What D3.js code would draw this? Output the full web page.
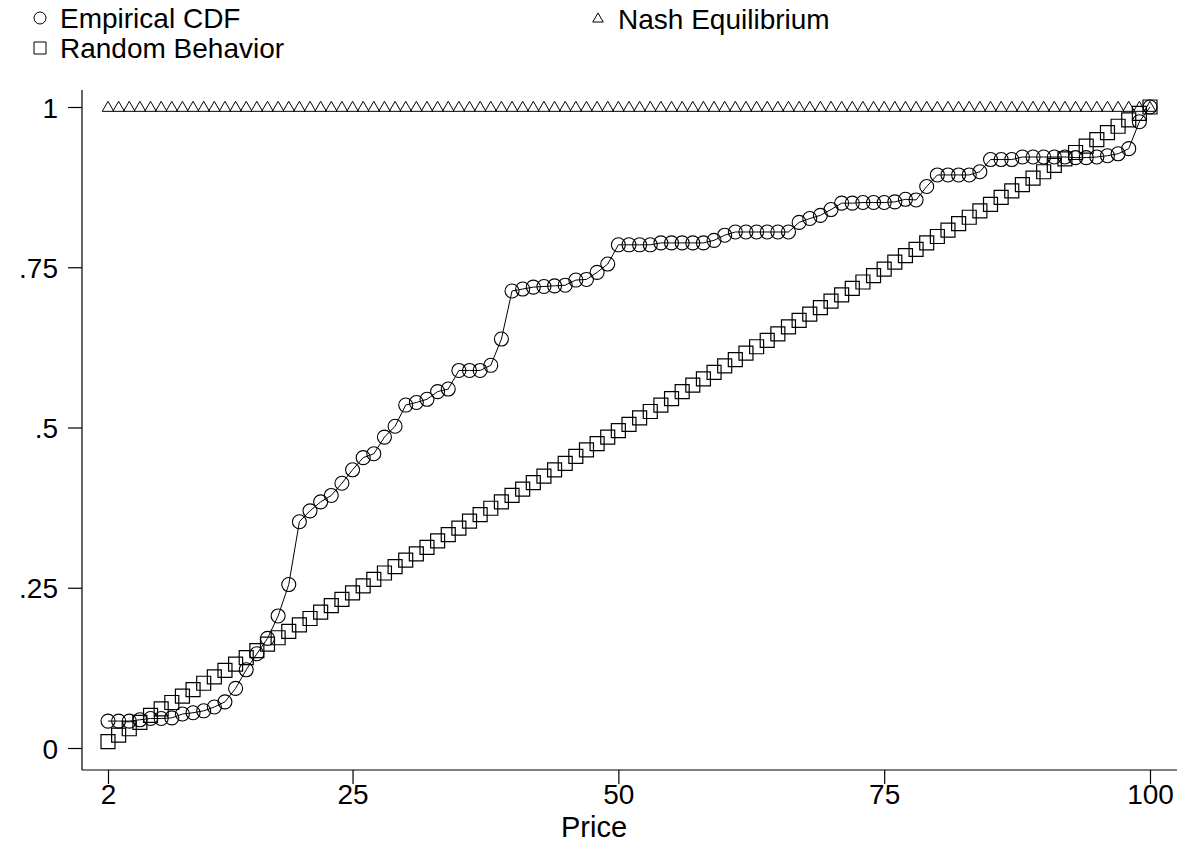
<!DOCTYPE html>
<html>
<head>
<meta charset="utf-8">
<script src="https://cdn.jsdelivr.net/npm/d3@7/dist/d3.min.js"></script>
<style>
  body { margin: 0; background: #fff; }
  svg { display: block; font-family: "Liberation Sans", Arial, sans-serif; }
  .axis text { font-size: 28px; fill: #000; }
  .axis path, .axis line { stroke: #000; stroke-width: 1.2; }
</style>
</head>
<body>
<div id="chart"></div>
<script>
// prices 2..100
const prices = [
  2, 3, 4, 5, 6, 7, 8, 9, 10, 11, 12, 13, 14, 15, 16, 17, 18, 19, 20, 21,
  22, 23, 24, 25, 26, 27, 28, 29, 30, 31, 32, 33, 34, 35, 36, 37, 38, 39, 40, 41,
  42, 43, 44, 45, 46, 47, 48, 49, 50, 51, 52, 53, 54, 55, 56, 57, 58, 59, 60, 61,
  62, 63, 64, 65, 66, 67, 68, 69, 70, 71, 72, 73, 74, 75, 76, 77, 78, 79, 80, 81,
  82, 83, 84, 85, 86, 87, 88, 89, 90, 91, 92, 93, 94, 95, 96, 97, 98, 99, 100
];

const empiricalCdf = [
  .042, .042, .042, .044, .046, .046, .047, .053, .055, .058, .064, .072, .093, .122, .147, .171, .206, .255, .353, .370,
  .384, .394, .413, .434, .453, .459, .485, .502, .535, .539, .544, .556, .560, .589, .589, .589, .597, .638, .713, .716,
  .719, .720, .721, .722, .730, .731, .742, .755, .785, .785, .785, .785, .788, .788, .788, .788, .788, .792, .800, .805,
  .805, .805, .805, .805, .805, .820, .826, .831, .840, .850, .850, .851, .851, .851, .852, .856, .855, .876, .894, .894,
  .894, .894, .899, .918, .918, .918, .922, .922, .922, .922, .922, .921, .921, .922, .924, .927, .935, .977, 1.0
];

const randomBehavior = [
  .010, .020, .030, .040, .051, .061, .071, .081, .091, .101, .111, .121, .131, .141, .152, .162, .172, .182, .192, .202,
  .212, .222, .232, .242, .253, .263, .273, .283, .293, .303, .313, .323, .333, .343, .354, .364, .374, .384, .394, .404,
  .414, .424, .434, .444, .455, .465, .475, .485, .495, .505, .515, .525, .535, .545, .556, .566, .576, .586, .596, .606,
  .616, .626, .636, .646, .657, .667, .677, .687, .697, .707, .717, .727, .737, .747, .758, .768, .778, .788, .798, .808,
  .818, .828, .838, .848, .859, .869, .879, .889, .899, .909, .919, .929, .939, .949, .960, .970, .980, .990, 1.0
];

const nashEquilibrium = [
  1, 1, 1, 1, 1, 1, 1, 1, 1, 1, 1, 1, 1, 1, 1, 1, 1, 1, 1, 1,
  1, 1, 1, 1, 1, 1, 1, 1, 1, 1, 1, 1, 1, 1, 1, 1, 1, 1, 1, 1,
  1, 1, 1, 1, 1, 1, 1, 1, 1, 1, 1, 1, 1, 1, 1, 1, 1, 1, 1, 1,
  1, 1, 1, 1, 1, 1, 1, 1, 1, 1, 1, 1, 1, 1, 1, 1, 1, 1, 1, 1,
  1, 1, 1, 1, 1, 1, 1, 1, 1, 1, 1, 1, 1, 1, 1, 1, 1, 1, 1
];

const xTicks = [2, 25, 50, 75, 100];
const yTicks = [0, .25, .5, .75, 1];
const yTickLabels = ['0', '.25', '.5', '.75', '1'];
const xTitle = 'Price';
const legendLabels = ['Empirical CDF', 'Random Behavior', 'Nash Equilibrium'];

const width = 1187, height = 848;
// plot frame (axis lines)
const frame = { left: 82, right: 1177, top: 90, bottom: 770 };

const svg = d3.select('#chart').append('svg')
  .attr('width', width)
  .attr('height', height);

const x = d3.scaleLinear().domain([2, 100]).range([108, 1150]);
const y = d3.scaleLinear().domain([0, 1]).range([748, 107]);

// axes
const yAxis = svg.append('g')
  .attr('class', 'axis')
  .attr('transform', `translate(${frame.left},0)`)
  .call(d3.axisLeft(y).tickValues(yTicks).tickSize(14).tickSizeOuter(0).tickPadding(10)
    .tickFormat((d, i) => yTickLabels[i]));
yAxis.select('.domain').attr('d', `M0,${frame.top}V${frame.bottom}`);
yAxis.selectAll('text').attr('dy', '0.36em');

const xAxis = svg.append('g')
  .attr('class', 'axis')
  .attr('transform', `translate(0,${frame.bottom})`)
  .call(d3.axisBottom(x).tickValues(xTicks).tickSize(14).tickSizeOuter(0).tickPadding(0));
xAxis.select('.domain').attr('d', `M${frame.left},0H${frame.right}`);
xAxis.selectAll('text').attr('dy', '0.71em');

svg.append('text')
  .attr('x', 594)
  .attr('y', 837)
  .attr('text-anchor', 'middle')
  .attr('font-size', 29)
  .text(xTitle);

const rows = prices.map((p, i) => ({
  p, emp: empiricalCdf[i], rnd: randomBehavior[i], nash: nashEquilibrium[i]
}));

const circle = d3.symbol().type(d3.symbolCircle).size(Math.PI * 7 * 7);
const square = d3.symbol().type(d3.symbolSquare).size(14 * 14);
const triangle = d3.symbol().type(d3.symbolTriangle).size(58);

const marks = svg.append('g');

// Nash equilibrium triangles
marks.selectAll('.nash')
  .data(rows).enter()
  .append('path')
  .attr('class', 'nash')
  .attr('d', triangle)
  .attr('transform', d => `translate(${x(d.p)},${y(d.nash) + 1})`)
  .attr('fill', 'none')
  .attr('stroke', '#000')
  .attr('stroke-width', 1);

// Random behavior squares
marks.selectAll('.rnd')
  .data(rows).enter()
  .append('path')
  .attr('class', 'rnd')
  .attr('d', square)
  .attr('transform', d => `translate(${x(d.p)},${y(d.rnd)})`)
  .attr('fill', 'none')
  .attr('stroke', '#000')
  .attr('stroke-width', 1.2);

// Empirical CDF line + circles
marks.append('path')
  .datum(rows)
  .attr('d', d3.line().x(d => x(d.p)).y(d => y(d.emp)))
  .attr('fill', 'none')
  .attr('stroke', '#000')
  .attr('stroke-width', 1);

marks.selectAll('.emp')
  .data(rows).enter()
  .append('path')
  .attr('class', 'emp')
  .attr('d', circle)
  .attr('transform', d => `translate(${x(d.p)},${y(d.emp)})`)
  .attr('fill', 'none')
  .attr('stroke', '#000')
  .attr('stroke-width', 1.1);

// legend
const legend = svg.append('g').attr('font-size', 28);
const legendItems = [
  { label: legendLabels[0], sym: d3.symbol().type(d3.symbolCircle).size(Math.PI * 6 * 6), lx: 40, ly: 18 },
  { label: legendLabels[1], sym: d3.symbol().type(d3.symbolSquare).size(12 * 12), lx: 40, ly: 48 },
  { label: legendLabels[2], sym: d3.symbol().type(d3.symbolTriangle).size(48), lx: 598, ly: 19 }
];
legendItems.forEach(it => {
  legend.append('path')
    .attr('d', it.sym)
    .attr('transform', `translate(${it.lx},${it.ly})`)
    .attr('fill', 'none')
    .attr('stroke', '#000')
    .attr('stroke-width', 1);
  legend.append('text')
    .attr('x', it.lx + 20)
    .attr('y', it.ly + 10)
    .text(it.label);
});
</script>
</body>
</html>
